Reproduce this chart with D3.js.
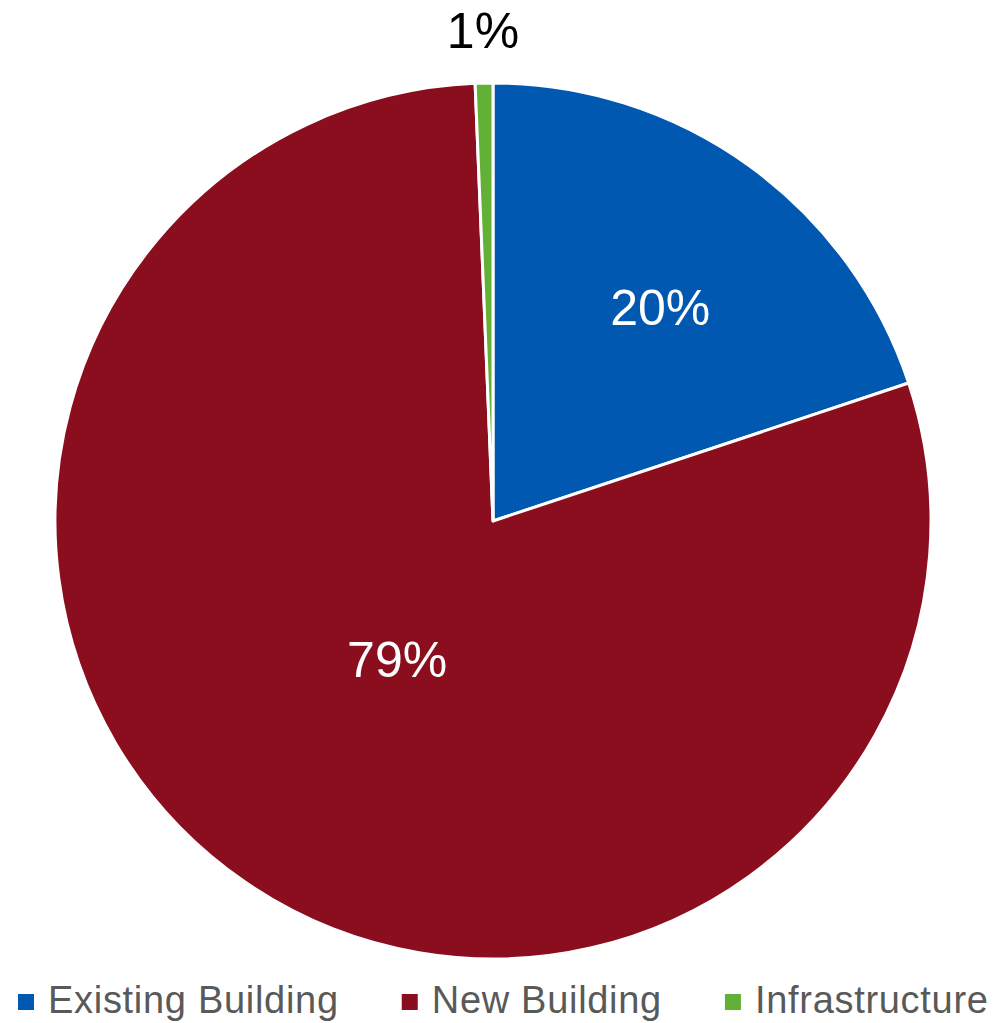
<!DOCTYPE html>
<html>
<head>
<meta charset="utf-8">
<script src="https://cdn.jsdelivr.net/npm/d3@7"></script>
<style>
  body { margin: 0; background: #fff; }
  svg { display: block; font-family: Arial, "Liberation Sans", sans-serif; }
</style>
</head>
<body>
<div id="chart"></div>
<script>
var categories = ["Existing Building", "New Building", "Infrastructure"];
var values = [19.9, 79.45, 0.65];
var colors = ["#0058B0", "#8B0E1F", "#62B036"];

var svgWidth = 999;
var svgHeight = 1023;
var cx = 493, cy = 521, radius = 438;

var svg = d3.select("#chart")
  .append("svg")
  .attr("width", svgWidth)
  .attr("height", svgHeight);

var data = categories.map(function(c, i) {
  return { name: c, value: values[i], color: colors[i] };
});

var total = d3.sum(values);
var pct = d3.format(".0%");

var pie = d3.pie()
  .value(d => d.value)
  .sort(null);

var arc = d3.arc()
  .innerRadius(0)
  .outerRadius(radius);

var pieGroup = svg.append("g")
  .attr("transform", `translate(${cx}, ${cy})`);

var arcs = pie(data);

pieGroup.selectAll("path")
  .data(arcs)
  .enter()
  .append("path")
  .attr("d", arc)
  .attr("fill", d => d.data.color)
  .attr("stroke", "#fff")
  .attr("stroke-width", 3)
  .attr("stroke-linejoin", "round");

// label placement: [fraction of radius, angle nudge in degrees]
var labelPlace = [[0.62, 2.2], [0.385, 0], [1.12, 0]];

pieGroup.selectAll("text.lbl")
  .data(arcs)
  .enter()
  .append("text")
  .attr("class", "lbl")
  .each(function(d, i) {
    var a = (d.startAngle + d.endAngle) / 2 + labelPlace[i][1] * Math.PI / 180;
    var r = radius * labelPlace[i][0];
    d3.select(this)
      .attr("x", Math.sin(a) * r)
      .attr("y", -Math.cos(a) * r)
      .attr("dy", "0.35em");
  })
  .attr("text-anchor", "middle")
  .attr("font-size", "50px")
  .attr("fill", (d, i) => i === 2 ? "#000" : "#fff")
  .text(d => pct(d.data.value / total));

// Legend
var legend = svg.append("g");
var x = 18;
data.forEach(function(d, i) {
  legend.append("rect")
    .attr("x", x)
    .attr("y", 994)
    .attr("width", 16)
    .attr("height", 16)
    .attr("fill", d.color);
  var t = legend.append("text")
    .attr("x", x + 30)
    .attr("y", 1013)
    .attr("font-size", "38px")
    .attr("letter-spacing", "0.7px")
    .attr("fill", "#595959")
    .text(d.name);
  x = x + 30 + t.node().getComputedTextLength() + 63;
});
</script>
</body>
</html>
